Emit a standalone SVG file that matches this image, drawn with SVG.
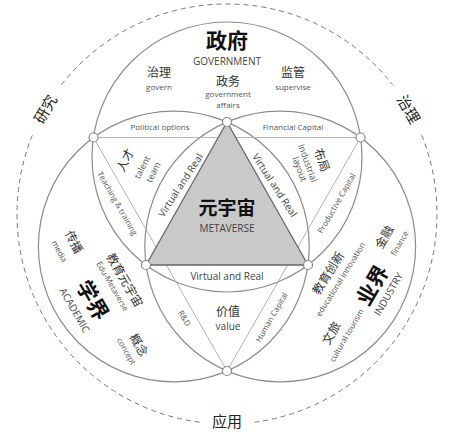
<svg xmlns="http://www.w3.org/2000/svg" width="454" height="434" viewBox="0 0 454 434">
<style>
text{font-family:"Open Sans","Noto Sans CJK SC",sans-serif;text-anchor:middle;dominant-baseline:central;fill:#444}
.big{font-size:21px;font-weight:700;fill:#111}
.cn{font-size:12px;fill:#333}
.en{font-size:8px;fill:#555}
.en9{font-size:9px;fill:#555}
.cap{font-size:10px;fill:#444}
.vr{font-size:10px;fill:#444}
.ring{font-size:15px;fill:#222}
.circ{fill:none;stroke:#8c8c8c;stroke-width:1.2}
.ln{stroke:#b5b5b5;stroke-width:1;fill:none}
.dash{fill:none;stroke:#777;stroke-width:1;stroke-dasharray:5 4}
.nd{fill:#fff;stroke:#888;stroke-width:1.2}
</style>
<rect width="454" height="434" fill="#fff"/>
<g id="outer-ring">
<path class="dash" d="M199.6,422.2 A210,210 0 0 1 32.3,135.3"/>
<path class="dash" d="M61.5,84.7 A210,210 0 0 1 392.5,84.7"/>
<path class="dash" d="M421.7,135.3 A210,210 0 0 1 254.4,422.2"/>
<text class="ring" transform="translate(45,109) rotate(-60)">研究</text>
<text class="ring" transform="translate(409,109) rotate(60)">治理</text>
<text class="ring" x="227" y="421">应用</text>
</g>
<g id="connectors">
<circle class="circ" cx="227" cy="157" r="135"/>
<circle class="circ" cx="173.8" cy="246.5" r="135.4"/>
<circle class="circ" cx="280.2" cy="246.5" r="135.4"/>
<line class="ln" x1="93.5" y1="137.5" x2="360.5" y2="137.5"/>
<line class="ln" x1="93.5" y1="137.5" x2="227" y2="371"/>
<line class="ln" x1="360.5" y1="137.5" x2="227" y2="371"/>
<text class="en" x="160" y="126">Political options</text>
<text class="en" x="293" y="126">Financial Capital</text>
<text class="en" transform="translate(118,203) rotate(60)">Teaching &amp; training</text>
<text class="en" transform="translate(336,203) rotate(-60)">Productive Capital</text>
<text class="en" transform="translate(185,318) rotate(60)">R&amp;D</text>
<text class="en" transform="translate(271,317) rotate(-60)">Human Capital</text>
</g>
<g id="metaverse">
<polygon points="227,122 146,265 308,265" fill="#c9c9c9" stroke="#666" stroke-width="1.3"/>
<text x="227" y="208" style="font-size:19px;font-weight:700;fill:#111">元宇宙</text>
<text class="cap" x="227" y="228">METAVERSE</text>
<text class="vr" transform="translate(180,185) rotate(-57)">Virtual and Real</text>
<text class="vr" transform="translate(275,185) rotate(57)">Virtual and Real</text>
<text class="vr" x="227" y="276">Virtual and Real</text>
</g>
<g id="government">
<text class="big" x="227" y="40">政府</text>
<text class="cap" x="227" y="61">GOVERNMENT</text>
<text class="cn" x="159" y="72">治理</text>
<text class="en" x="159" y="86">govern</text>
<text class="cn" x="228" y="81">政务</text>
<text class="en" x="228" y="93.5">government</text>
<text class="en" x="228" y="104.5">affairs</text>
<text class="cn" x="293" y="72">监管</text>
<text class="en" x="293" y="86">supervise</text>
</g>
<g id="talent">
<text class="cn" transform="translate(125,160) rotate(-63)">人才</text>
<text class="en9" transform="translate(142,167) rotate(-63)">talent</text>
<text class="en9" transform="translate(153,172) rotate(-63)">team</text>
</g>
<g id="layout">
<text class="cn" transform="translate(322,160) rotate(70)">布局</text>
<text class="en9" transform="translate(308,163) rotate(70)">Industrial</text>
<text class="en9" transform="translate(300,169) rotate(70)">layout</text>
</g>
<g id="value">
<text class="cn" x="228" y="311">价值</text>
<text class="cap" x="228" y="326">value</text>
</g>
<g id="academic">
<text class="cn" transform="translate(74,242) rotate(62)">传播</text>
<text class="en" transform="translate(60,251) rotate(62)">media</text>
<text class="cn" transform="translate(125,280) rotate(60)">教育元宇宙</text>
<text class="en" transform="translate(113,286) rotate(60)">Edu-Metaverse</text>
<text class="big" transform="translate(93,300) rotate(60)">学界</text>
<text class="cap" transform="translate(75,310) rotate(60)">ACADEMIC</text>
<text class="cn" transform="translate(139,345) rotate(60)">概念</text>
<text class="en" transform="translate(127,351) rotate(60)">concept</text>
</g>
<g id="industry">
<text class="cn" transform="translate(384,237) rotate(-60)">金融</text>
<text class="en" transform="translate(399,243) rotate(-60)">finance</text>
<text class="cn" transform="translate(328,273) rotate(-58)">教育创新</text>
<text class="en" transform="translate(340,279) rotate(-58)">educational innovation</text>
<text class="big" transform="translate(372,285) rotate(-60)">业界</text>
<text class="cap" transform="translate(388,294) rotate(-60)">INDUSTRY</text>
<text class="cn" transform="translate(331,333) rotate(-60)">文旅</text>
<text class="en" transform="translate(346,335) rotate(-60)">cultural tourism</text>
</g>
<g id="nodes">
<circle class="nd" cx="227" cy="122" r="4.5"/>
<circle class="nd" cx="146" cy="265" r="4.5"/>
<circle class="nd" cx="308" cy="265" r="4.5"/>
<circle class="nd" cx="93.5" cy="137.5" r="4.5"/>
<circle class="nd" cx="360.5" cy="137.5" r="4.5"/>
<circle class="nd" cx="227" cy="371" r="4.5"/>
</g>
</svg>
